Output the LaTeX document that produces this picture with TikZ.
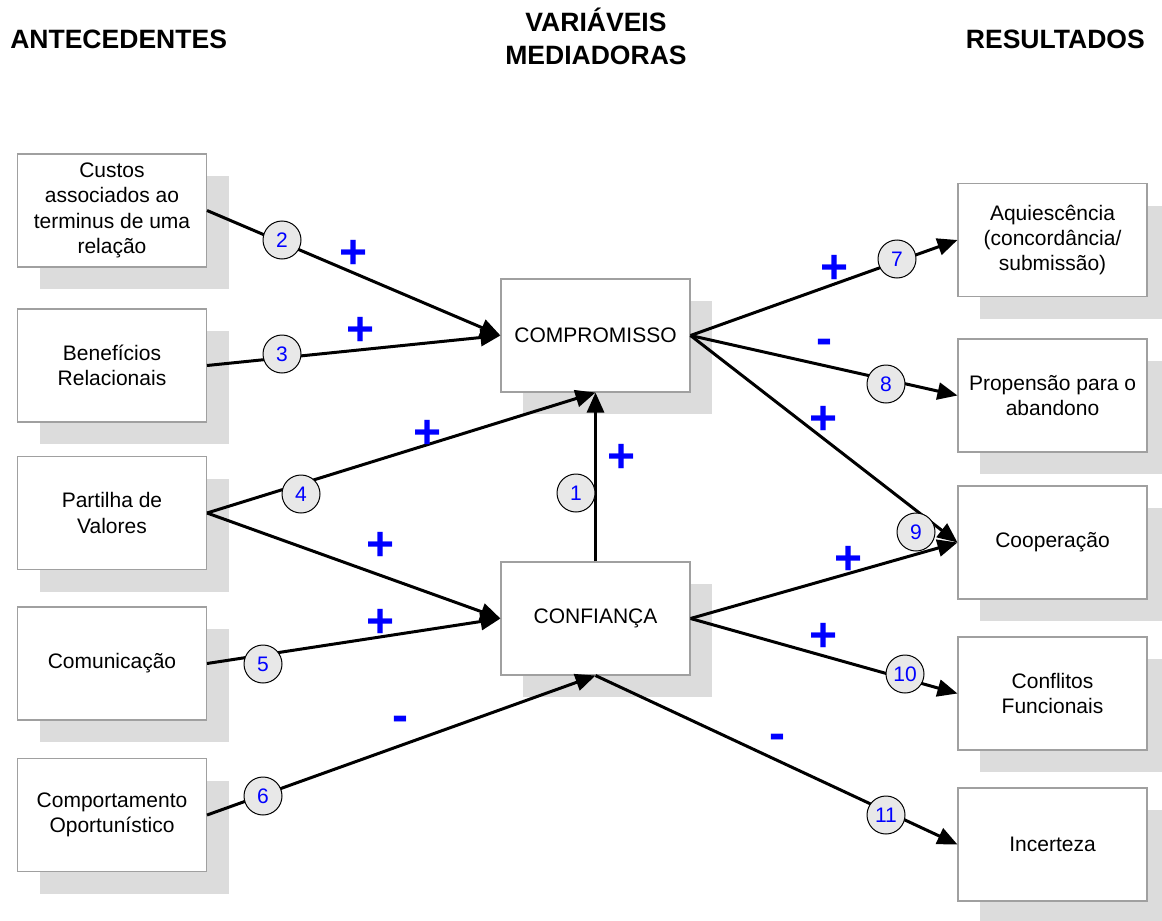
\documentclass[tikz,border=0pt]{standalone}
\usepackage{fontspec}
\setmainfont{Liberation Sans}
\usetikzlibrary{arrows.meta,shadows}

\definecolor{shade}{HTML}{DCDCDC}
\definecolor{edgegray}{HTML}{A0A0A0}
\definecolor{discfill}{HTML}{E8E8E8}
\definecolor{signblue}{HTML}{0000FF}

\begin{document}
\begin{tikzpicture}[x=0.75pt,y=-0.75pt,
  box/.style={draw=edgegray, line width=0.8pt, fill=white,
    minimum width=141.75pt, minimum height=84.75pt, inner sep=0pt,
    align=center, font=\fontsize{15.75}{19}\selectfont,
    drop shadow={shadow xshift=16.5pt, shadow yshift=-16.5pt, fill=shade, opacity=1}},
  head/.style={inner sep=0pt, align=center, font=\bfseries\fontsize{19.9}{24.75}\selectfont},
  link/.style={line width=2.25pt, -{Triangle[length=15pt, width=12.75pt]}},
  disc/.style={circle, draw=black, line width=0.75pt, fill=discfill,
    minimum size=28.5pt, inner sep=0pt, text=signblue,
    font=\fontsize{15.75}{18}\selectfont},
  sgn/.style={inner sep=0pt, anchor=base, text=signblue,
    font=\bfseries\fontsize{36}{36}\selectfont}]

\useasboundingbox (0,0) rectangle (1162,920);

% column titles
\node[head, anchor=south west] (tA) at (10,49.5) {ANTECEDENTES};
\node[head, anchor=south] (tM) at (596,65) {VARIÁVEIS\\MEDIADORAS};
\node[head, anchor=south east] (tR) at (1145,49.5) {RESULTADOS};

% antecedents
\node[box] (a1) at (112,210.5) {Custos\\associados ao\\terminus de uma\\relação};
\node[box] (a2) at (112,365.5) {Benefícios\\Relacionais};
\node[box] (a3) at (112,513) {Partilha de\\Valores};
\node[box] (a4) at (112,663.5) {Comunicação};
\node[box] (a5) at (112,815) {Comportamento\\Oportunístico};

% mediators
\node[box] (cp) at (595.5,335.5) {COMPROMISSO};
\node[box] (cf) at (595.5,618.5) {CONFIANÇA};

% outcomes
\node[box] (r1) at (1052.5,240) {Aquiescência\\(concordância/\\submissão)};
\node[box] (r2) at (1052.5,395.5) {Propensão para o\\abandono};
\node[box] (r3) at (1052.5,542.5) {Cooperação};
\node[box] (r4) at (1052.5,693.5) {Conflitos\\Funcionais};
\node[box] (r5) at (1052.5,844.5) {Incerteza};

% relations
\draw[link] (a1.east) -- (cp.west);
\draw[link] (a2.east) -- (cp.west);
\draw[link] (a3.east) -- (cp.south);
\draw[link] (a3.east) -- (cf.west);
\draw[link] (a4.east) -- (cf.west);
\draw[link] (a5.east) -- (cf.south);
\draw[link] (cf.north) -- (cp.south);
\draw[link] (cp.east) -- (r1.west);
\draw[link] (cp.east) -- (r2.west);
\draw[link] (cp.east) -- (r3.west);
\draw[link] (cf.east) -- (r3.west);
\draw[link] (cf.east) -- (r4.west);
\draw[link] (cf.south) -- (r5.west);

% hypothesis numbers
\node[disc] (h1) at (576,493) {1};
\node[disc] (h2) at (282,240) {2};
\node[disc] (h3) at (282,354) {3};
\node[disc] (h4) at (301,494) {4};
\node[disc] (h5) at (263,664) {5};
\node[disc] (h6) at (263,796) {6};
\node[disc] (h7) at (897,259) {7};
\node[disc] (h8) at (886,384) {8};
\node[disc] (h9) at (916,532) {9};
\node[disc] (h10) at (905,674) {10};
\node[disc] (h11) at (886,815) {11};

% signs of the relations
\node[sgn] (s2) at (354,268) {+};
\node[sgn] (s3) at (361,345) {+};
\node[sgn] (s4) at (428,448) {+};
\node[sgn] (s4b) at (381,560) {+};
\node[sgn] (s5) at (381,637) {+};
\node[sgn] (s6) at (400,731) {-};
\node[sgn] (s1) at (622,472) {+};
\node[sgn] (s7) at (835,283) {+};
\node[sgn] (s8) at (824,354) {-};
\node[sgn] (s9) at (824,434) {+};
\node[sgn] (s9b) at (849,574) {+};
\node[sgn] (s10) at (824,651) {+};
\node[sgn] (s11) at (777,749) {-};

\end{tikzpicture}
\end{document}
